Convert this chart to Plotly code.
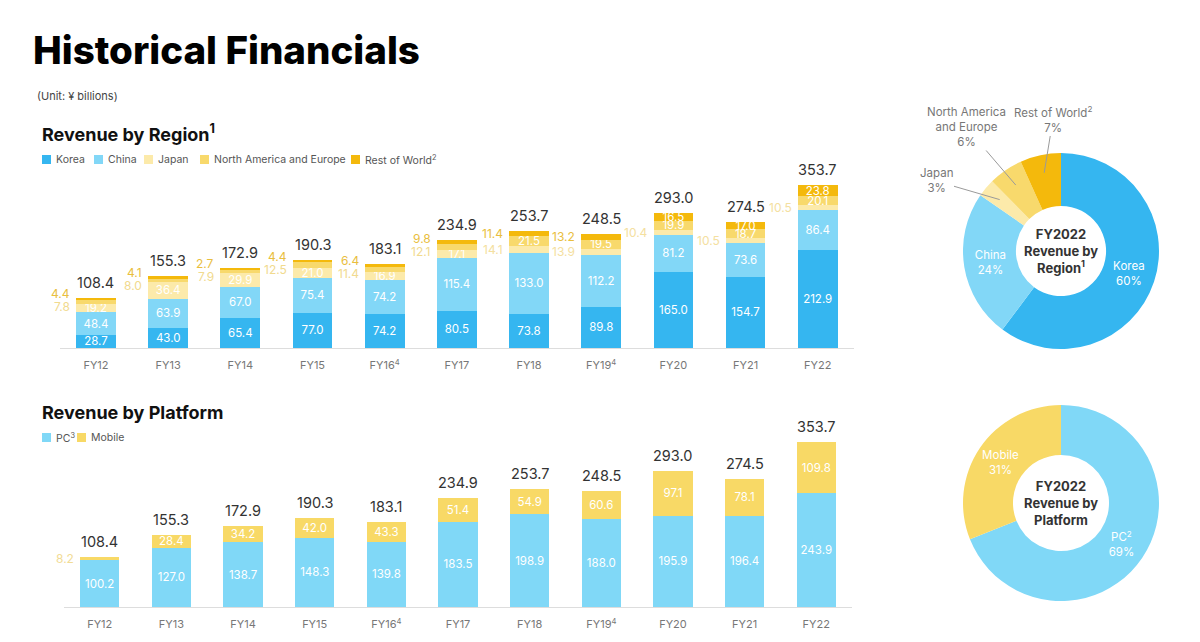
import math
import plotly.graph_objects as go

# ---------------- data ----------------
years = ["FY12", "FY13", "FY14", "FY15", "FY16", "FY17", "FY18", "FY19", "FY20", "FY21", "FY22"]
year_ticks = ["FY12", "FY13", "FY14", "FY15", "FY16<sup>4</sup>", "FY17", "FY18",
              "FY19<sup>4</sup>", "FY20", "FY21", "FY22"]

korea = [28.7, 43.0, 65.4, 77.0, 74.2, 80.5, 73.8, 89.8, 165.0, 154.7, 212.9]
china = [48.4, 63.9, 67.0, 75.4, 74.2, 115.4, 133.0, 112.2, 81.2, 73.6, 86.4]
japan = [19.2, 36.4, 29.9, 21.0, 16.9, 17.1, 14.1, 13.9, 10.4, 10.5, 10.5]
na_eu = [7.8, 8.0, 7.9, 12.5, 11.4, 12.1, 21.5, 19.5, 19.9, 18.7, 20.1]
rest_world = [4.4, 4.1, 2.7, 4.4, 6.4, 9.8, 11.4, 13.2, 16.5, 17.0, 23.8]
region_totals = [108.4, 155.3, 172.9, 190.3, 183.1, 234.9, 253.7, 248.5, 293.0, 274.5, 353.7]

pc = [100.2, 127.0, 138.7, 148.3, 139.8, 183.5, 198.9, 188.0, 195.9, 196.4, 243.9]
mobile = [8.2, 28.4, 34.2, 42.0, 43.3, 51.4, 54.9, 60.6, 97.1, 78.1, 109.8]
platform_totals = [108.4, 155.3, 172.9, 190.3, 183.1, 234.9, 253.7, 248.5, 293.0, 274.5, 353.7]

region_names = ["Korea", "China", "Japan", "North America and Europe", "Rest of World<sup>2</sup>"]
pie_region_labels = ["Korea", "China", "Japan", "North America<br>and Europe", "Rest of World<sup>2</sup>"]
platform_names = ["PC<sup>3</sup>", "Mobile"]
pie_platform_labels = ["PC<sup>2</sup>", "Mobile"]

# ---------------- style ----------------
W, H = 1200, 642
FONT = "Inter"
C_KOREA = "#35B6F0"
C_CHINA = "#82D7F7"
C_JAPAN = "#FCEAAA"
C_NAEU = "#F8D96C"
C_ROW = "#F4B90C"
C_PC = "#80D8F7"
C_MOB = "#F8D966"
region_colors = [C_KOREA, C_CHINA, C_JAPAN, C_NAEU, C_ROW]
outside_colors = [C_KOREA, C_CHINA, "#F4E0A0", "#F1DA8E", "#E9BE3E"]
INSIDE_MIN = 15


def px(x):
    return x / W


def py(y):
    return 1 - y / H


# chart geometry (pixels)
TOP_BASE, TOP_TOP = 348, 173
BOT_BASE, BOT_TOP = 607, 430
YMAX = 380
BARW = 0.55

fig = go.Figure()
xs = list(range(len(years)))

region_series = [korea, china, japan, na_eu, rest_world]
for name, vals, col in zip(region_names, region_series, region_colors):
    fig.add_trace(go.Bar(
        x=xs, y=vals, name=name, marker=dict(color=col, line=dict(width=0)),
        width=BARW,
        text=[f"{v:.1f}" if v >= INSIDE_MIN else "" for v in vals],
        textposition="inside", insidetextanchor="middle", textangle=0,
        constraintext="none",
        textfont=dict(color="white", size=11.5, family=FONT),
        xaxis="x", yaxis="y", hoverinfo="skip", showlegend=False))

for name, vals, col in zip(platform_names, [pc, mobile], [C_PC, C_MOB]):
    fig.add_trace(go.Bar(
        x=xs, y=vals, name=name, marker=dict(color=col, line=dict(width=0)),
        width=BARW,
        text=[f"{v:.1f}" if v >= INSIDE_MIN else "" for v in vals],
        textposition="inside", insidetextanchor="middle", textangle=0,
        constraintext="none",
        textfont=dict(color="white", size=11.5, family=FONT),
        xaxis="x2", yaxis="y2", hoverinfo="skip", showlegend=False))

annotations = []


def outside_labels(series_list, colors, xref, yref, k):
    for i in xs:
        items = []
        base = 0
        for s, vals in enumerate(series_list):
            v = vals[i]
            if v < INSIDE_MIN:
                items.append([base + v / 2, v, colors[s]])
            base += v
        items.sort(key=lambda t: t[0])
        gap = 13 / k
        for _ in range(10):
            for a, b in zip(items, items[1:]):
                if b[0] - a[0] < gap:
                    m = (a[0] + b[0]) / 2
                    a[0], b[0] = m - gap / 2, m + gap / 2
        for y, v, col in items:
            annotations.append(dict(
                x=i - BARW / 2, y=y, xref=xref, yref=yref, text=f"{v:.1f}",
                showarrow=False, xanchor="right", yanchor="middle", xshift=-4,
                font=dict(size=12, color=col, family=FONT)))


outside_labels(region_series, outside_colors, "x", "y", (TOP_BASE - TOP_TOP) / YMAX)
outside_labels([pc, mobile], [C_PC, "#F2DC96"], "x2", "y2", (BOT_BASE - BOT_TOP) / YMAX)

for xref, yref, totals in [("x", "y", region_totals), ("x2", "y2", platform_totals)]:
    for i, t in zip(xs, totals):
        annotations.append(dict(
            x=i, y=t, xref=xref, yref=yref, text=f"{t:.1f}", showarrow=False,
            yanchor="bottom", yshift=5,
            font=dict(size=14.5, color="#333333", family=FONT)))

# ---------------- pies ----------------
R = 98
REG_C = (1061, 251)
PLA_C = (1061, 503)


def dom(c):
    return dict(x=[px(c[0] - R), px(c[0] + R)], y=[py(c[1] + R), py(c[1] - R)])


reg_vals = [v[-1] for v in region_series]
fig.add_trace(go.Pie(
    labels=pie_region_labels, values=reg_vals, hole=0.46, sort=False,
    direction="clockwise", rotation=0, domain=dom(REG_C),
    marker=dict(colors=region_colors, line=dict(width=0)),
    texttemplate=["%{label}<br>%{percent:.0%}", "%{label}<br>%{percent:.0%}", "", "", ""],
    textposition="inside", insidetextorientation="horizontal",
    textfont=dict(color="white", size=11.5, family=FONT),
    hoverinfo="skip", showlegend=False))

pla_vals = [pc[-1], mobile[-1]]
fig.add_trace(go.Pie(
    labels=pie_platform_labels, values=pla_vals, hole=0.49, sort=False,
    direction="clockwise", rotation=0, domain=dom(PLA_C),
    marker=dict(colors=[C_PC, C_MOB], line=dict(width=0)),
    texttemplate="%{label}<br>%{percent:.0%}",
    textposition="inside", insidetextorientation="horizontal",
    textfont=dict(color="white", size=11.5, family=FONT),
    hoverinfo="skip", showlegend=False))

# leader-line labels for small slices of the region donut
tot = sum(reg_vals)
cum = 0
label_pos = {2: (936, 181), 3: (966, 127), 4: (1053, 119)}
for j, v in enumerate(reg_vals):
    mid = (cum + v / 2) / tot * 2 * math.pi
    cum += v
    if j in label_pos:
        tx = REG_C[0] + 80 * math.sin(mid)
        ty = REG_C[1] - 80 * math.cos(mid)
        lx, ly = label_pos[j]
        annotations.append(dict(
            x=px(tx), y=py(ty), xref="paper", yref="paper",
            text=f"{pie_region_labels[j]}<br>{round(v / tot * 100)}%",
            showarrow=True, arrowhead=0, arrowwidth=1, arrowcolor="#9A9A9A",
            ax=lx - tx, ay=ly - ty, standoff=0,
            font=dict(size=11.5, color="#777777", family=FONT)))

# donut centre captions
for c, txt in [(REG_C, "FY2022<br>Revenue by<br>Region<sup>1</sup>"),
               (PLA_C, "FY2022<br>Revenue by<br>Platform")]:
    annotations.append(dict(
        x=px(c[0]), y=py(c[1]), xref="paper", yref="paper", text=txt,
        showarrow=False, xanchor="center", yanchor="middle",
        font=dict(size=13, color="#333333", family=FONT, weight=700)))

# ---------------- titles ----------------
annotations += [
    dict(x=px(31), y=py(50), xref="paper", yref="paper", text="Historical Financials",
         showarrow=False, xanchor="left", yanchor="middle",
         font=dict(size=38.5, color="#000000", family=FONT, weight=800)),
    dict(x=px(35), y=py(96), xref="paper", yref="paper", text="(Unit: ¥ billions)",
         showarrow=False, xanchor="left", yanchor="middle",
         font=dict(size=11, color="#444444", family=FONT)),
    dict(x=px(40), y=py(133), xref="paper", yref="paper", text="Revenue by Region<sup>1</sup>",
         showarrow=False, xanchor="left", yanchor="middle",
         font=dict(size=18, color="#111111", family=FONT, weight=700)),
    dict(x=px(40), y=py(412), xref="paper", yref="paper", text="Revenue by Platform",
         showarrow=False, xanchor="left", yanchor="middle",
         font=dict(size=18, color="#111111", family=FONT, weight=700)),
]

# ---------------- legends ----------------
shapes = []


def legend(names, colors, xs_px, y_px):
    for n, c, x0 in zip(names, colors, xs_px):
        shapes.append(dict(type="rect", xref="paper", yref="paper",
                           x0=px(x0), x1=px(x0 + 9), y0=py(y_px + 4.5), y1=py(y_px - 4.5),
                           fillcolor=c, line=dict(width=0)))
        annotations.append(dict(x=px(x0 + 12), y=py(y_px), xref="paper", yref="paper",
                                text=n, showarrow=False, xanchor="left", yanchor="middle",
                                font=dict(size=10.5, color="#555555", family=FONT)))


legend(region_names, region_colors, [42, 94, 144, 200, 351], 159.5)
legend(platform_names, [C_PC, C_MOB], [42, 77], 437.5)

axis_common = dict(range=[-0.5, 10.5], tickvals=xs, ticktext=year_ticks, showline=True,
                   linecolor="#DDDDDD", linewidth=1, ticks="", showgrid=False, zeroline=False,
                   tickfont=dict(size=11, color="#777777", family=FONT), ticklabelstandoff=7,
                   fixedrange=True)

fig.update_layout(
    width=W, height=H, margin=dict(l=0, r=0, t=0, b=0),
    paper_bgcolor="white", plot_bgcolor="white",
    barmode="stack", showlegend=False,
    font=dict(family=FONT),
    xaxis=dict(domain=[px(59.9), px(853.8)], anchor="y", **axis_common),
    yaxis=dict(domain=[py(TOP_BASE), py(TOP_TOP)], range=[0, YMAX], visible=False, fixedrange=True),
    xaxis2=dict(domain=[px(63.9), px(852.1)], anchor="y2", **axis_common),
    yaxis2=dict(domain=[py(BOT_BASE), py(BOT_TOP)], range=[0, YMAX], visible=False, fixedrange=True),
    annotations=annotations, shapes=shapes,
)

fig.write_html("out.html", config={"displayModeBar": False},
               post_script="document.body.style.margin='0';document.body.style.overflow='hidden';")
